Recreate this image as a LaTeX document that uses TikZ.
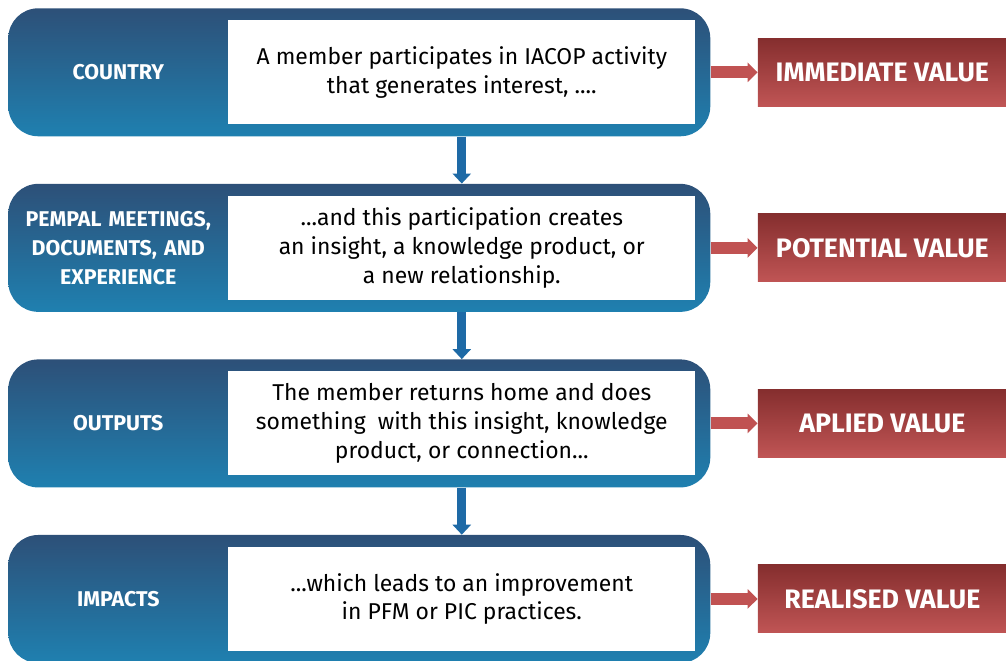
\documentclass[tikz,border=0pt]{standalone}
\usepackage{fontspec}
\setmainfont{Fira Sans}
\usetikzlibrary{positioning,arrows.meta}
\definecolor{bluetop}{HTML}{2D5078}
\definecolor{bluebot}{HTML}{1F80B0}
\definecolor{redtop}{HTML}{852E2E}
\definecolor{redbot}{HTML}{C05555}
\definecolor{arrowblue}{HTML}{1E6AA6}
\definecolor{arrowred}{HTML}{C05252}
\tikzset{
stage/.style={rounded corners=0.75cm, top color=bluetop, bottom color=bluebot, minimum width=17.55cm, minimum height=3.2cm, inner sep=0},
textbox/.style={fill=white, minimum width=11.675cm, minimum height=2.6cm, align=center, inner sep=0, font=\fontsize{16.3}{20.6}\selectfont},
stagelabel/.style={text=white, align=center, text width=5.5cm, inner sep=0, font=\bfseries\fontsize{15.2}{20.6}\selectfont},
value/.style={top color=redtop, bottom color=redbot, minimum width=6.225cm, minimum height=1.7cm, inner sep=0, text=white, font=\bfseries\fontsize{19}{22}\selectfont},
down/.style={draw=arrowblue, line width=0.22cm, -{Triangle[length=0.25cm,width=0.45cm]}},
toval/.style={draw=arrowred, line width=0.3cm, -{Triangle[length=0.25cm,width=0.48cm]}}
}
\begin{document}
\begin{tikzpicture}
\useasboundingbox (0,0) rectangle (25.15,-16.5);
\node[stage, anchor=north west](out1) at (0.2,-0.2){};
\node[stage, below = 1.175cm of out1](out2){};
\node[stage, below = 1.175cm of out2](out3){};
\node[stage, below = 1.175cm of out3](out4){};
\node[textbox, left = 0.375cm of out1.east](in1){A member participates in IACOP activity\\that generates interest, ....};
\node[textbox, left = 0.375cm of out2.east](in2){...and this participation creates\\an insight, a knowledge product, or\\a new relationship.};
\node[textbox, left = 0.375cm of out3.east](in3){The member returns home and does\\something\ \ with this insight, knowledge\\product, or connection...};
\node[textbox, left = 0.375cm of out4.east](in4){...which leads to an improvement\\in PFM or PIC practices.};
\node[stagelabel, right = 0cm of out1.west](lab1){COUNTRY};
\node[stagelabel, right = 0cm of out2.west](lab2){PEMPAL MEETINGS,\\DOCUMENTS, AND\\EXPERIENCE};
\node[stagelabel, right = 0cm of out3.west](lab3){OUTPUTS};
\node[stagelabel, right = 0cm of out4.west](lab4){IMPACTS};
\node[value, right = 1.175cm of out1.east](val1){IMMEDIATE VALUE};
\node[value, right = 1.175cm of out2.east](val2){POTENTIAL VALUE};
\node[value, right = 1.175cm of out3.east](val3){APLIED VALUE};
\node[value, right = 1.175cm of out4.east](val4){REALISED VALUE};
\draw[down] (out1.south -| in1.south) -- (out2.north -| in2.north);
\draw[down] (out2.south -| in2.south) -- (out3.north -| in3.north);
\draw[down] (out3.south -| in3.south) -- (out4.north -| in4.north);
\draw[toval] (out1.east) -- (val1.west);
\draw[toval] (out2.east) -- (val2.west);
\draw[toval] (out3.east) -- (val3.west);
\draw[toval] (out4.east) -- (val4.west);
\end{tikzpicture}
\end{document}
